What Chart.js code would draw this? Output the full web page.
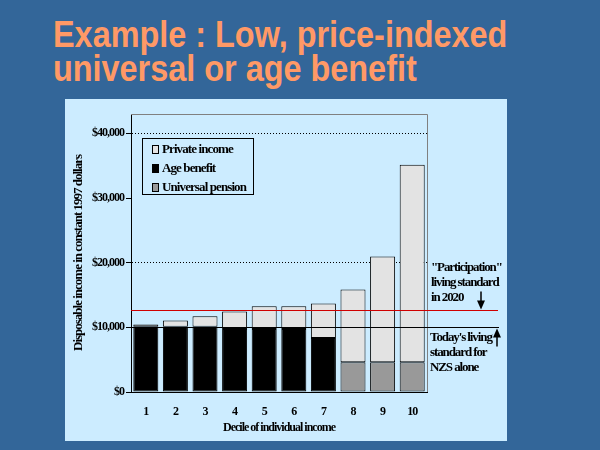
<!DOCTYPE html>
<html>
<head>
<meta charset="utf-8">
<script src="https://cdn.jsdelivr.net/npm/chart.js@4"></script>
<style>
  html, body { margin: 0; padding: 0; }
  body { width: 600px; height: 450px; background: #336699; position: relative; overflow: hidden; }
  #titre {
    position: absolute; left: 53px; top: 18px;
    font: bold 36px "Liberation Sans", Arial, sans-serif; line-height: 34px;
    color: #FF9966; white-space: nowrap;
    transform: scaleX(0.9); transform-origin: left top;
  }
  #painel { position: absolute; left: 65px; top: 99px; width: 442px; height: 342px; background: #CCECFF; }
</style>
</head>
<body>
<div id="titre">Example : Low, price-indexed<br>universal or age benefit</div>
<div id="painel"><canvas id="grafico"></canvas></div>
<script>
const decis = ['1', '2', '3', '4', '5', '6', '7', '8', '9', '10'];
const pensaoUniversal = [null, null, null, null, null, null, null, 4600, 4600, 4600];
const beneficioIdade = [10100, 10100, 10100, 9750, 9750, 9750, 8350, null, null, null];
const rendaPrivada = [350, 950, 1600, 2700, 3500, 3500, 5350, 11250, 16350, 30550];
const ticksY = [0, 10000, 20000, 30000, 40000];
const nivelParticipacao = 12750;
const nivelHoje = 10000;
const textoParticipacao = ['"Participation"', 'living standard', 'in 2020'];
const textoHoje = ["Today's living", 'standard for', 'NZS alone'];

const fonteSerif = '"Liberation Serif", "Times New Roman", serif';

function seta(ctx, x, yBase, yPonta) {
    const dir = yPonta > yBase ? 1 : -1;
    ctx.beginPath();
    ctx.moveTo(x, yBase);
    ctx.lineTo(x, yPonta - dir * 8);
    ctx.stroke();
    ctx.beginPath();
    ctx.moveTo(x - 4, yPonta - dir * 9);
    ctx.lineTo(x + 4, yPonta - dir * 9);
    ctx.lineTo(x, yPonta);
    ctx.closePath();
    ctx.fill();
}

const extras = {
    id: 'extras',
    beforeLayout(chart) { chart.ctx.letterSpacing = '-1px'; },
    beforeDraw(chart) { chart.ctx.letterSpacing = '-1px'; },
    afterDatasetsDraw(chart) {
        const { ctx, chartArea: a, scales: { y } } = chart;
        ctx.save();

        // moldura cinza em cima e a direita
        ctx.strokeStyle = '#808080';
        ctx.lineWidth = 1;
        ctx.beginPath();
        ctx.moveTo(a.left, a.top + 0.5);
        ctx.lineTo(a.right + 0.5, a.top + 0.5);
        ctx.lineTo(a.right + 0.5, a.bottom);
        ctx.stroke();

        // linhas de padrao de vida
        const yP = Math.round(y.getPixelForValue(nivelParticipacao)) + 0.5;
        const yH = Math.round(y.getPixelForValue(nivelHoje)) + 0.5;
        ctx.strokeStyle = '#D00000';
        ctx.beginPath();
        ctx.moveTo(a.left, yP);
        ctx.lineTo(a.right + 71, yP);
        ctx.stroke();
        ctx.strokeStyle = '#000';
        ctx.beginPath();
        ctx.moveTo(a.left, yH);
        ctx.lineTo(a.right + 72, yH);
        ctx.stroke();

        // setas
        ctx.fillStyle = '#000';
        ctx.lineWidth = 1.5;
        seta(ctx, a.right + 54, yP - 19, yP - 1);
        seta(ctx, a.right + 70, yH + 19, yH + 1);

        // textos
        ctx.font = 'bold 13px ' + fonteSerif;
        ctx.letterSpacing = '-1.1px';
        ctx.textAlign = 'left';
        ctx.textBaseline = 'middle';
        textoParticipacao.forEach((t, i) => ctx.fillText(t, a.right + 4, yP - 43 + i * 15));
        textoHoje.forEach((t, i) => ctx.fillText(t, a.right + 3, yH + 10 + i * 15));

        // legenda
        const lx = a.left + 11;
        const ly = a.top + 24;
        ctx.lineWidth = 1;
        ctx.strokeStyle = '#000';
        ctx.strokeRect(lx + 0.5, ly + 0.5, 111, 56);
        ctx.letterSpacing = '-0.9px';
        const itens = [...chart.data.datasets].reverse();
        itens.forEach((ds, i) => {
            const cy = ly + 11 + i * 19;
            ctx.fillStyle = ds.backgroundColor;
            ctx.fillRect(lx + 10.5, cy - 3.5, 6, 8);
            ctx.strokeRect(lx + 10.5, cy - 3.5, 6, 8);
            ctx.fillStyle = '#000';
            ctx.fillText(ds.label, lx + 20, cy + 1);
        });

        ctx.restore();
    }
};

new Chart(document.getElementById('grafico').getContext('2d'), {
    type: 'bar',
    data: {
        labels: decis,
        datasets: [
            { label: 'Universal pension', data: pensaoUniversal, backgroundColor: '#999999' },
            { label: 'Age benefit', data: beneficioIdade, backgroundColor: '#000000' },
            { label: 'Private income', data: rendaPrivada, backgroundColor: '#E3E3E3' }
        ]
    },
    options: {
        responsive: true,
        maintainAspectRatio: false,
        animation: false,
        layout: { padding: { top: 15, right: 80, left: 0, bottom: 0 } },
        datasets: {
            bar: {
                borderColor: '#000',
                borderWidth: 1,
                borderSkipped: false,
                barPercentage: 0.845,
                categoryPercentage: 1
            }
        },
        plugins: {
            legend: { display: false },
            tooltip: { enabled: false }
        },
        scales: {
            x: {
                stacked: true,
                grid: { display: false, drawTicks: false },
                border: { display: true, color: '#000', width: 1 },
                ticks: {
                    color: '#000',
                    padding: 13,
                    font: { family: fonteSerif, size: 12, weight: 'bold' }
                },
                title: {
                    display: true,
                    text: 'Decile of individual income',
                    color: '#000',
                    padding: { top: 2, bottom: 6 },
                    font: { family: fonteSerif, size: 12, weight: 'bold' }
                },
                afterFit(scale) { scale.height = 49; }
            },
            y: {
                stacked: true,
                min: 0,
                max: 43000,
                afterBuildTicks(scale) { scale.ticks = ticksY.map(v => ({ value: v })); },
                grid: {
                    color: c => (c.tick && c.tick.value > 0 && c.tick.value % 20000 === 0) ? '#000' : 'rgba(0,0,0,0)',
                    tickColor: '#000',
                    tickLength: 5,
                    lineWidth: 1
                },
                border: { display: true, color: '#000', width: 1, dash: [1, 2] },
                ticks: {
                    color: '#000',
                    padding: 2,
                    font: { family: fonteSerif, size: 12, weight: 'bold' },
                    callback: v => '$' + Number(v).toLocaleString('en-US')
                },
                title: {
                    display: true,
                    text: 'Disposable income in constant 1997 dollars',
                    color: '#000',
                    padding: { top: 6, bottom: 0 },
                    font: { family: fonteSerif, size: 13, weight: 'bold' }
                },
                afterFit(scale) { scale.width = 66; }
            }
        }
    },
    plugins: [extras]
});
</script>
</body>
</html>
